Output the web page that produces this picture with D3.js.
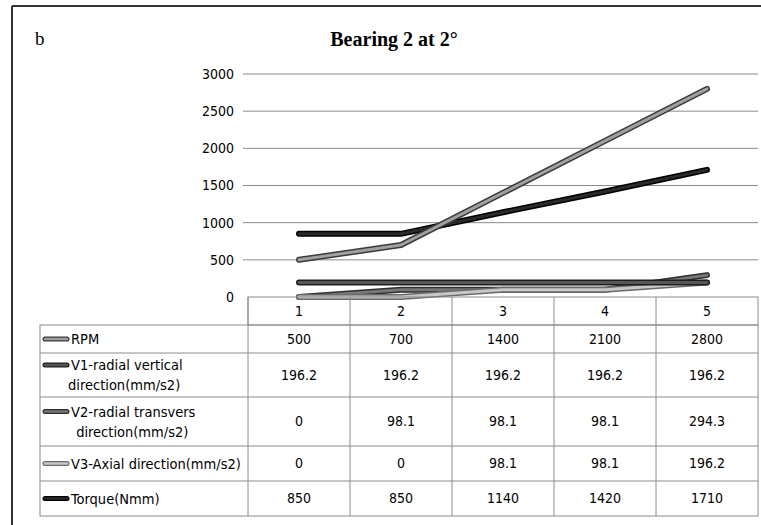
<!DOCTYPE html>
<html><head><meta charset="utf-8">
<script src="https://cdn.jsdelivr.net/npm/d3@7"></script>
<style>body{margin:0;background:#fff}svg{display:block}</style>
</head><body>
<script>
const categories = ["1","2","3","4","5"];
const seriesNames = [
  ["RPM"],
  ["V1-radial vertical","direction(mm/s2)"],
  ["V2-radial transvers"," direction(mm/s2)"],
  ["V3-Axial direction(mm/s2)"],
  ["Torque(Nmm)"]
];
const rpm = [500,700,1400,2100,2800];
const v1 = [196.2,196.2,196.2,196.2,196.2];
const v2 = [0,98.1,98.1,98.1,294.3];
const v3 = [0,0,98.1,98.1,196.2];
const torque = [850,850,1140,1420,1710];
const seriesValues = [rpm, v1, v2, v3, torque];
const yTicks = [0,500,1000,1500,2000,2500,3000];
const title = "Bearing 2 at 2°";
const panelLabel = "b";

const W = 761, H = 525;
const svg = d3.select("body").append("svg").attr("width", W).attr("height", H);

// frame
svg.append("line").attr("x1",12).attr("x2",W).attr("y1",6).attr("y2",6).attr("stroke","#333").attr("stroke-width",2);
svg.append("line").attr("x1",12).attr("x2",12).attr("y1",6).attr("y2",H).attr("stroke","#333").attr("stroke-width",2);

svg.append("text").attr("x",35).attr("y",45).attr("font-family","Liberation Serif, serif").attr("font-size",19).text(panelLabel);
svg.append("text").attr("x",394).attr("y",46).attr("text-anchor","middle").attr("font-family","Liberation Serif, serif")
  .attr("font-weight","bold").attr("font-size",20).text(title);

const plotL = 248, plotR = 758, gridL = 243;
const x = d3.scalePoint().domain(categories).range([plotL, plotR]).padding(0.5);
const y = d3.scaleLinear().domain([0,3000]).range([297, 74]);

// grid
svg.append("g").selectAll("line").data(yTicks.filter(d=>d>0)).join("line")
  .attr("x1",gridL).attr("x2",plotR).attr("y1",d=>y(d)).attr("y2",d=>y(d)).attr("stroke","#8a8a8a").attr("stroke-width",1);

const txtFont = "DejaVu Sans Condensed, Open Sans, sans-serif";
const yAxis = d3.axisLeft(y).tickValues(yTicks).tickFormat(d3.format("d")).tickSize(0).tickPadding(0);
const ga = svg.append("g").attr("transform",`translate(234,0)`).call(yAxis);
ga.select(".domain").remove();
ga.selectAll("text").attr("font-family",txtFont).attr("font-size",14).attr("fill","#000").attr("dy","0.32em");

const outer = ["#3a3a3a","#1e1e1e","#2e2e2e","#6a6a6a","#000"];
const inner = ["#a0a0a0","#575757","#777","#c8c8c8","#2a2a2a"];
const line = d3.line().x((d,i)=>x(categories[i])).y(d=>y(d));
const order = [2,3,1,4,0];
order.forEach(k=>{
  svg.append("path").attr("d",line(seriesValues[k])).attr("fill","none").attr("stroke",outer[k])
    .attr("stroke-width",6).attr("stroke-linecap","round").attr("stroke-linejoin","round");
  svg.append("path").attr("d",line(seriesValues[k])).attr("fill","none").attr("stroke",inner[k])
    .attr("stroke-width",3).attr("stroke-linecap","round").attr("stroke-linejoin","round");
});

// table
const rowEdges = [325,353,397,446,481,516];
const tableL = 40, headTop = 297;
const tg = svg.append("g");
const border = "#8c8c8c";
tg.append("rect").attr("x",plotL).attr("y",headTop).attr("width",plotR-plotL).attr("height",rowEdges[0]-headTop).attr("fill","none").attr("stroke",border);
tg.append("rect").attr("x",tableL).attr("y",rowEdges[0]).attr("width",plotR-tableL).attr("height",rowEdges[5]-rowEdges[0]).attr("fill","none").attr("stroke",border);
rowEdges.slice(1,5).forEach(r=>tg.append("line").attr("x1",tableL).attr("x2",plotR).attr("y1",r).attr("y2",r).attr("stroke",border));
const step = x.step();
categories.forEach((c,i)=>{
  const cx = x(c);
  tg.append("line").attr("x1",cx-step/2).attr("x2",cx-step/2).attr("y1",headTop).attr("y2",rowEdges[5]).attr("stroke",border);
  tg.append("text").attr("x",cx).attr("y",(headTop+rowEdges[0])/2).attr("dy","0.35em").attr("text-anchor","middle")
    .attr("font-family",txtFont).attr("font-size",14).attr("fill","#000").text(c);
});
seriesNames.forEach((names,k)=>{
  const top = rowEdges[k], bot = rowEdges[k+1], mid = (top+bot)/2;
  const firstY = names.length>1 ? mid-10 : mid;
  tg.append("line").attr("x1",45).attr("x2",67).attr("y1",firstY).attr("y2",firstY).attr("stroke",outer[k]).attr("stroke-width",5).attr("stroke-linecap","round");
  tg.append("line").attr("x1",45).attr("x2",67).attr("y1",firstY).attr("y2",firstY).attr("stroke",inner[k]).attr("stroke-width",2.5).attr("stroke-linecap","round");
  names.forEach((n,j)=>{
    const xx = j===0 ? 71 : (k===1 ? 68 : 72);
    tg.append("text").attr("x",xx).attr("y",firstY+j*20).attr("dy","0.35em").attr("font-family",txtFont)
      .attr("font-size",14.5).attr("fill","#000").style("white-space","pre").text(n);
  });
  seriesValues[k].forEach((v,i)=>{
    tg.append("text").attr("x",x(categories[i])).attr("y",mid).attr("dy","0.35em").attr("text-anchor","middle")
      .attr("font-family",txtFont).attr("font-size",14).attr("fill","#000").text(String(v));
  });
});
</script>
</body></html>
